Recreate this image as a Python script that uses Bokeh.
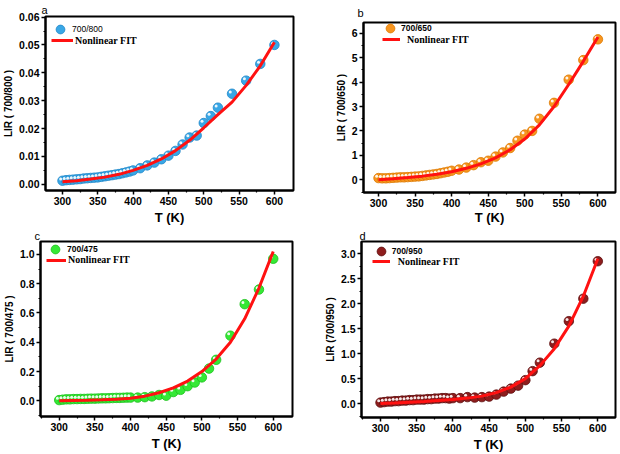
from bokeh.plotting import figure
from bokeh.models import Range1d, FixedTicker, Legend, LegendItem, NumeralTickFormatter, Title
from bokeh.layouts import column, row
from bokeh.transform import dodge
from bokeh.embed import file_html
from bokeh.resources import INLINE

# ---------------- data ----------------
T = [300, 305, 310, 315, 320, 325, 330, 335, 340, 345, 350, 355, 360, 365, 370, 375, 380, 385, 390, 395, 400,
     410, 420, 430, 440, 450, 460, 470, 480, 490, 500, 510, 520,
     540, 560, 580, 600]

lir_800 = [0.0013, 0.0015, 0.0016, 0.0017, 0.0018, 0.0019, 0.0021, 0.0022, 0.0023, 0.0024, 0.0025, 0.0027, 0.0029,
           0.0031, 0.0033, 0.0035, 0.0037, 0.0040, 0.0043, 0.0046, 0.0050,
           0.0058, 0.0068, 0.0078, 0.0090, 0.0103, 0.0120, 0.0143, 0.0168, 0.0175, 0.0220, 0.0245, 0.0275,
           0.0325, 0.0372, 0.0432, 0.0500]

lir_650 = [0.07, 0.06, 0.06, 0.07, 0.08, 0.09, 0.10, 0.10, 0.11, 0.12, 0.13, 0.14, 0.16, 0.18, 0.20, 0.22, 0.24,
           0.27, 0.30, 0.33, 0.37,
           0.42, 0.50, 0.60, 0.72, 0.78, 0.95, 1.12, 1.30, 1.60, 1.85, 2.00, 2.50,
           3.15, 4.10, 4.90, 5.75]

lir_475 = [0.005, 0.008, 0.010, 0.010, 0.012, 0.012, 0.013, 0.013, 0.014, 0.015, 0.015, 0.016, 0.017, 0.017, 0.018,
           0.019, 0.020, 0.020, 0.021, 0.022, 0.022,
           0.022, 0.025, 0.030, 0.040, 0.035, 0.060, 0.075, 0.100, 0.125, 0.160, 0.220, 0.280,
           0.445, 0.660, 0.760, 0.970]

lir_950 = [0.02, 0.03, 0.04, 0.04, 0.05, 0.05, 0.06, 0.06, 0.07, 0.07, 0.08, 0.08, 0.08, 0.09, 0.09, 0.10, 0.10,
           0.11, 0.11, 0.10, 0.11,
           0.11, 0.13, 0.12, 0.13, 0.14, 0.18, 0.24, 0.30, 0.36, 0.47, 0.65, 0.82,
           1.20, 1.65, 2.10, 2.85]

T_fit = [300, 320, 340, 360, 380, 400, 420, 440, 460, 480, 500, 520, 540, 560, 580, 600]
fit_800 = [0.0009, 0.0013, 0.0019, 0.0026, 0.0036, 0.0050, 0.0068, 0.0091, 0.0121, 0.0158, 0.0203, 0.0250,
           0.0295, 0.0355, 0.0425, 0.0510]
fit_650 = [0.0, 0.04, 0.09, 0.15, 0.23, 0.33, 0.47, 0.65, 0.90, 1.23, 1.67, 2.25, 3.00, 3.90, 4.85, 5.85]
fit_475 = [0.0, 0.002, 0.004, 0.007, 0.011, 0.018, 0.032, 0.055, 0.088, 0.135, 0.200, 0.285, 0.400, 0.560,
           0.770, 1.020]
fit_950 = [0.0, 0.01, 0.025, 0.04, 0.06, 0.08, 0.11, 0.15, 0.22, 0.33, 0.50, 0.76, 1.10, 1.55, 2.15, 2.90]

x_ticks = [300, 350, 400, 450, 500, 550, 600]
y_ticks_a = [0.00, 0.01, 0.02, 0.03, 0.04, 0.05, 0.06]
y_ticks_b = [0, 1, 2, 3, 4, 5, 6]
y_ticks_c = [0.0, 0.2, 0.4, 0.6, 0.8, 1.0]
y_ticks_d = [0.0, 0.5, 1.0, 1.5, 2.0, 2.5, 3.0]

SANS = "Liberation Sans"
SERIF = "Liberation Serif"
W, H = 310, 227


def minor_between(ticks):
    return [(a + b) / 2 for a, b in zip(ticks[:-1], ticks[1:])] + [ticks[0] - (ticks[1] - ticks[0]) / 2]


def panel(letter, ys, fit, yt, yfmt, xr, yr, borders, color, edge, ylab, mlabel, mbold, leg, xlab_standoff):
    L, R, Tp, B = borders
    fw, fh = W - L - R, H - Tp - B
    p = figure(width=W, height=H, output_backend="svg", toolbar_location=None,
               x_range=Range1d(*xr), y_range=Range1d(*yr),
               min_border_left=L, min_border_right=R, min_border_top=Tp, min_border_bottom=B)
    p.frame_align = False
    p.background_fill_color = "white"
    p.border_fill_color = "white"
    p.xgrid.visible = False
    p.ygrid.visible = False
    p.outline_line_color = "black"
    p.outline_line_width = 2
    p.xaxis.ticker = FixedTicker(ticks=x_ticks, minor_ticks=minor_between(x_ticks))
    p.yaxis.ticker = FixedTicker(ticks=yt, minor_ticks=minor_between(yt))
    if yfmt:
        p.yaxis.formatter = NumeralTickFormatter(format=yfmt)
    for ax in (p.xaxis[0], p.yaxis[0]):
        ax.axis_line_width = 2
        ax.axis_line_color = "black"
        ax.major_tick_line_width = 1.5
        ax.minor_tick_line_width = 1.2
        ax.major_tick_out = 4
        ax.major_tick_in = 0
        ax.minor_tick_out = 2
        ax.minor_tick_in = 0
        ax.major_label_text_font = SANS
        ax.major_label_text_font_style = "bold"
        ax.major_label_text_font_size = "10.5px"
        ax.major_label_text_color = "black"
        ax.major_label_standoff = 2
        ax.axis_label_text_font = SANS
        ax.axis_label_text_font_style = "bold"
        ax.axis_label_text_color = "black"
    p.xaxis.axis_label = "T (K)"
    p.xaxis.axis_label_text_font_size = "13px"
    p.xaxis.axis_label_standoff = xlab_standoff
    p.yaxis.axis_label = ylab
    p.yaxis.axis_label_text_font_size = "10px"
    p.yaxis.axis_label_standoff = 2

    t = Title(text=letter[0], align="left", offset=letter[1], standoff=letter[2],
              text_font=SANS, text_font_size="11px", text_font_style="normal", text_color="black")
    p.add_layout(t, "above")

    data = dict(T=T, y=ys)
    mr = p.scatter("T", "y", source=data, size=9.5, fill_color=color, line_color=edge, line_width=0.8)
    dx = -1.8 * (xr[1] - xr[0]) / fw
    dy = 1.8 * (yr[1] - yr[0]) / fh
    p.scatter(dodge("T", dx), dodge("y", dy), source=data, size=3, fill_color="white",
              line_color=None, fill_alpha=0.9)
    fr = p.line(T_fit, fit, line_color="#ff1111", line_width=3)

    mx, my, mtx, lx, ly, lw, ltx = leg
    leg1 = Legend(items=[LegendItem(label=mlabel, renderers=[mr])],
                  location=(mx - 11, fh - my - 11), glyph_width=22, glyph_height=22,
                  label_height=22, padding=0, margin=0, spacing=0,
                  label_standoff=max(0, int(round(mtx - (mx + 11)))),
                  background_fill_alpha=0, border_line_alpha=0,
                  label_text_font=SANS, label_text_font_size="8.5px",
                  label_text_font_style="bold" if mbold else "normal",
                  label_text_color="black")
    leg2 = Legend(items=[LegendItem(label="Nonlinear FIT", renderers=[fr])],
                  location=(lx, fh - ly - 6), glyph_width=int(round(lw)), glyph_height=12,
                  label_height=12, padding=0, margin=0, spacing=0,
                  label_standoff=max(0, int(round(ltx - (lx + lw)))),
                  background_fill_alpha=0, border_line_alpha=0,
                  label_text_font=SERIF, label_text_font_size="10px",
                  label_text_font_style="bold", label_text_color="black")
    p.add_layout(leg1)
    p.add_layout(leg2)
    return p


pa = panel(("a", -4, 2), lir_800, fit_800, y_ticks_a, "0.00", (276, 627), (-0.0022, 0.0602),
           (40, 17, 15, 35), "#39a7e6", "#1f86c8", "LIR ( 700/800 )", "700/800", False,
           (15, 16, 27, 6, 27, 22, 30), 2)
pb = panel(("b", -6, 8), lir_650, fit_650, y_ticks_b, None, (279.5, 624), (-0.52, 6.44),
           (53, 5, 22, 32), "#f7951f", "#dd7a00", "LIR ( 700/650 )", "700/650", True,
           (27, 9, 37, 19, 20, 18, 44), 0)
pc = panel(("c", -6, 0), lir_475, fit_475, y_ticks_c, "0.0", (273.8, 627), (-0.107, 1.088),
           (36, 18, 14, 38), "#35e835", "#1cc01c", "LIR ( 700/475 )", "700/475", True,
           (15, 7.5, 27, 6, 18.5, 20, 28), 2)
pd = panel(("d", -2, 0), lir_950, fit_950, y_ticks_d, "0.0", (273.8, 624.4), (-0.278, 3.245),
           (51, 5, 14, 37), "#8e1d1d", "#5c0e0e", "LIR (700/950 )", "700/950", True,
           (19.7, 9.7, 30.7, 10.7, 20.3, 18.3, 37.3), 2)

layout = column(row(pa, pb), row(pc, pd))
open("out.html", "w").write(file_html(layout, INLINE))
